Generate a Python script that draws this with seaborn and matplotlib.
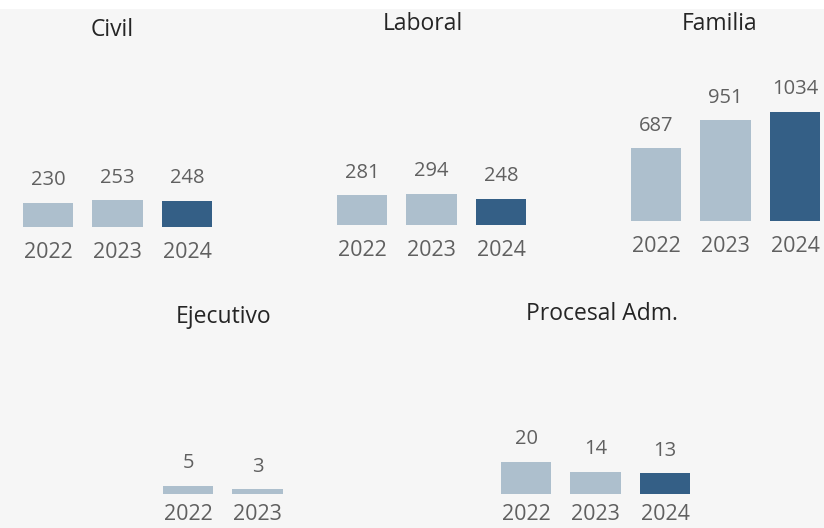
import matplotlib
matplotlib.use("Agg")
import matplotlib.pyplot as plt
import seaborn as sns
import pandas as pd
from matplotlib.patches import Rectangle

# Data
years = [2022, 2023, 2024]
panels = ["Civil", "Laboral", "Familia", "Ejecutivo", "Procesal Adm."]
civil = [230, 253, 248]
laboral = [281, 294, 248]
familia = [687, 951, 1034]
ejecutivo = [5, 3]          # no 2024 value
procesal = [20, 14, 13]

values = {"Civil": civil, "Laboral": laboral, "Familia": familia,
          "Ejecutivo": ejecutivo, "Procesal Adm.": procesal}

rows = []
for name in panels:
    for year, val in zip(years, values[name]):
        rows.append({"panel": name, "year": year, "count": val})
df = pd.DataFrame(rows)

# Styling
LIGHT = "#adbfcd"
DARK = "#345f86"
BG = "#f6f6f6"
palette = {2022: LIGHT, 2023: LIGHT, 2024: DARK}

sns.set_theme(style="white")
plt.rcParams["font.family"] = ["Open Sans", "DejaVu Sans"]

W, H = 824, 528
fig = plt.figure(figsize=(W / 100, H / 100), dpi=100)
fig.patch.set_facecolor(BG)
fig.add_artist(Rectangle((0, 1 - 9 / H), 1, 9 / H, transform=fig.transFigure,
                         facecolor="white", edgecolor="none", zorder=0))

unit = 69.5  # px per category slot
# layout per panel: first bar centre x, baseline y, axes top y, px per unit value,
# title centre, tick label pad
layout = {
    "Civil":         dict(cx=48, base=227, top=60, k=0.1057, title=(112, 30), pad=11),
    "Laboral":       dict(cx=362, base=225, top=60, k=0.1057, title=(423, 24), pad=11),
    "Familia":       dict(cx=656, base=221, top=60, k=0.1057, title=(720, 24), pad=11),
    "Ejecutivo":     dict(cx=188, base=494, top=340, k=1.6, title=(224, 317), pad=7),
    "Procesal Adm.": dict(cx=526, base=494, top=340, k=1.6, title=(602, 314), pad=7),
}

for name in panels:
    lay = layout[name]
    left = lay["cx"] - unit / 2
    width = 3 * unit
    height = lay["base"] - lay["top"]
    ax = fig.add_axes([left / W, 1 - lay["base"] / H, width / W, height / H])
    ax.set_facecolor("none")

    sub = df[df["panel"] == name]
    sns.barplot(data=sub, x="year", y="count", hue="year", order=years,
                hue_order=years, palette=palette, width=0.72, legend=False,
                saturation=1, edgecolor="none", linewidth=0, ax=ax)

    for cont in ax.containers:
        ax.bar_label(cont, padding=9, fontsize=14.5, color="#606060")

    ax.set_xlim(-0.5, 2.5)
    ax.set_ylim(0, height / lay["k"])
    ax.set_xticks(range(len(years)))
    ax.set_xticklabels([str(y) for y in years] if name != "Ejecutivo"
                       else [str(y) for y in years[:len(ejecutivo)]] + [""],
                       fontsize=15.5, color="#606060")
    ax.tick_params(axis="x", length=0, pad=lay["pad"])
    ax.set_yticks([])
    ax.set_xlabel("")
    ax.set_ylabel("")
    sns.despine(ax=ax, left=True, bottom=True)

    tx, ty = lay["title"]
    fig.text(tx / W, 1 - ty / H, name, ha="center", va="center",
             fontsize=16.5, color="#252525")

fig.savefig("out.png", dpi=100, facecolor=BG)
